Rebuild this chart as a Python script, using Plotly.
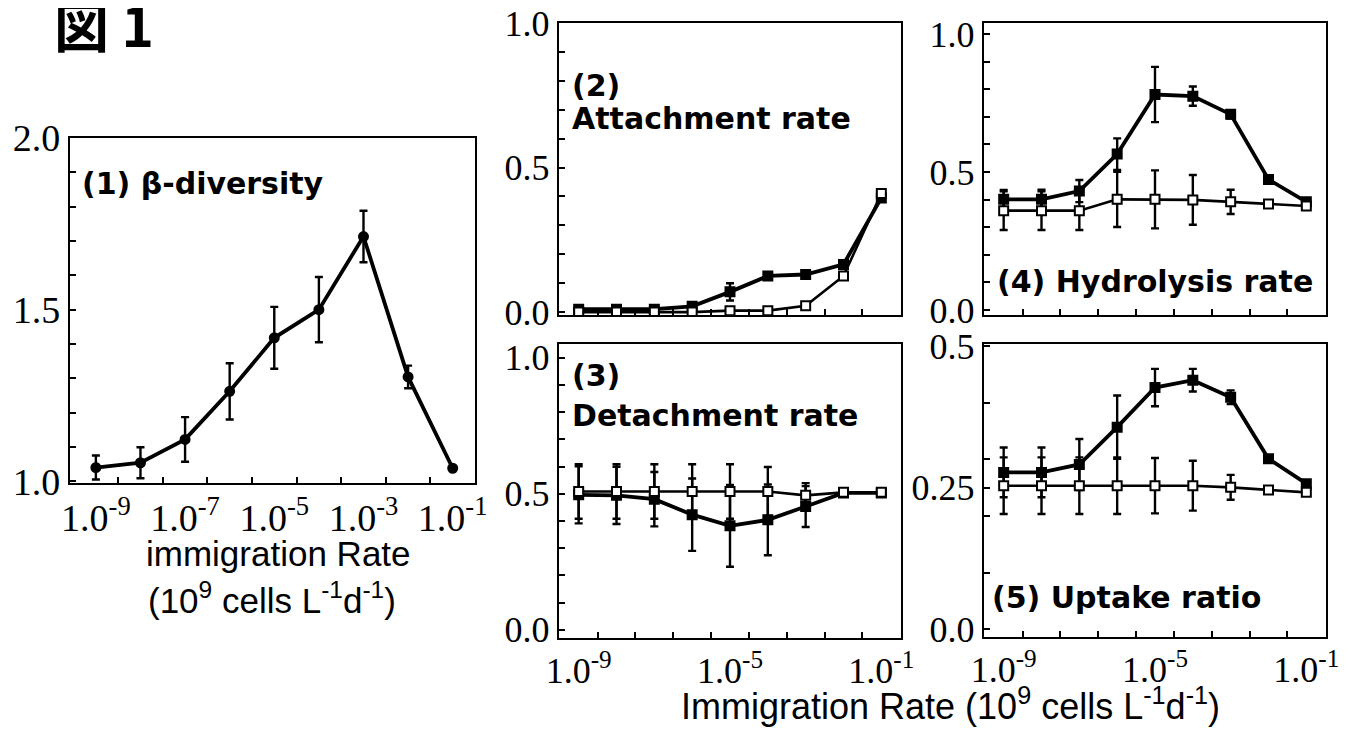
import plotly.graph_objects as go

W, H = 1363, 729

# ---------------- data ----------------
rates = [1e-9, 1e-8, 1e-7, 1e-6, 1e-5, 1e-4, 1e-3, 1e-2, 1e-1]

beta_div = [1.04, 1.054, 1.122, 1.262, 1.418, 1.50, 1.713, 1.304, 1.038]
beta_div_err = [0.035, 0.045, 0.065, 0.082, 0.09, 0.095, 0.075, 0.033, 0.0]

attach_filled = [0.01, 0.01, 0.01, 0.02, 0.07, 0.125, 0.13, 0.165, 0.395]
attach_filled_err = [0.005, 0.005, 0.005, 0.008, 0.03, 0.012, 0.008, 0.01, 0.01]
attach_open = [0.0, 0.0, 0.0, 0.0, 0.005, 0.005, 0.022, 0.125, 0.41]
attach_open_err = [0.0, 0.0, 0.0, 0.0, 0.0, 0.0, 0.005, 0.008, 0.01]

detach_filled = [0.496, 0.494, 0.48, 0.423, 0.382, 0.404, 0.453, 0.503, 0.503]
detach_filled_err = [0.105, 0.105, 0.1, 0.133, 0.15, 0.13, 0.075, 0.01, 0.01]
detach_open = [0.508, 0.508, 0.508, 0.508, 0.508, 0.508, 0.494, 0.505, 0.505]
detach_open_err = [0.1, 0.1, 0.1, 0.1, 0.1, 0.09, 0.045, 0.0, 0.0]

hydro_filled = [0.401, 0.401, 0.431, 0.565, 0.781, 0.775, 0.709, 0.473, 0.392]
hydro_filled_err = [0.034, 0.035, 0.04, 0.057, 0.1, 0.035, 0.015, 0.01, 0.01]
hydro_open = [0.36, 0.36, 0.36, 0.401, 0.401, 0.399, 0.392, 0.384, 0.377]
hydro_open_err = [0.07, 0.07, 0.07, 0.1, 0.105, 0.09, 0.044, 0.01, 0.0]

uptake_filled = [0.277, 0.277, 0.291, 0.357, 0.427, 0.44, 0.41, 0.301, 0.257]
uptake_filled_err = [0.044, 0.044, 0.045, 0.056, 0.033, 0.02, 0.012, 0.006, 0.005]
uptake_open = [0.2535, 0.2535, 0.2535, 0.2535, 0.2535, 0.2535, 0.2506, 0.246, 0.2417]
uptake_open_err = [0.05, 0.05, 0.05, 0.05, 0.049, 0.044, 0.022, 0.005, 0.005]

x_tick_vals_p1 = [1e-9, 1e-7, 1e-5, 1e-3, 1e-1]
x_tick_text_p1 = ["1.0<sup>-9</sup>", "1.0<sup>-7</sup>", "1.0<sup>-5</sup>",
                  "1.0<sup>-3</sup>", "1.0<sup>-1</sup>"]
x_tick_vals = [1e-9, 1e-5, 1e-1]
x_tick_text = ["1.0<sup>-9</sup>", "1.0<sup>-5</sup>", "1.0<sup>-1</sup>"]
half_decades = [10 ** (e + 0.5) for e in range(-9, -1)]

# ---------------- helpers ----------------
# the page body has an 8px margin, so screen pixel (x, y) maps to figure
# pixel (x - 8, y - 8)
OFF = 8


def px(x):
    return (x - OFF) / W


def py(y):
    return 1 - (y - OFF) / H


SERIF = "Liberation Serif, Times New Roman, serif"
SANS = "Liberation Sans, Arial, sans-serif"
BOLD = "DejaVu Sans, sans-serif"

fig = go.Figure()


def add_series(ax, ys, errs, filled, symbol="square"):
    xa = "x" if ax == 1 else f"x{ax}"
    ya = "y" if ax == 1 else f"y{ax}"
    fig.add_trace(go.Scatter(
        x=rates, y=ys, xaxis=xa, yaxis=ya, mode="lines+markers",
        line=dict(color="black", width=3.8 if filled else 2.6),
        marker=dict(symbol=symbol, size=9,
                    color="black" if filled else "white",
                    line=dict(color="black", width=2)),
        error_y=dict(type="data", array=errs, visible=True,
                     color="black", thickness=2.4, width=4),
        showlegend=False, hoverinfo="x+y",
    ))


add_series(1, beta_div, beta_div_err, True, symbol="circle")
add_series(2, attach_filled, attach_filled_err, True)
add_series(2, attach_open, attach_open_err, False)
add_series(3, detach_filled, detach_filled_err, True)
add_series(3, detach_open, detach_open_err, False)
add_series(4, hydro_filled, hydro_filled_err, True)
add_series(4, hydro_open, hydro_open_err, False)
add_series(5, uptake_filled, uptake_filled_err, True)
add_series(5, uptake_open, uptake_open_err, False)


def xaxis(dom, anchor, rng, tv=None, tt=None, labels=True, size=36):
    d = dict(
        domain=[px(dom[0]), px(dom[1])], anchor=anchor, type="log", range=rng,
        automargin=False, ticklabeloverflow="allow",
        showline=True, linecolor="black", linewidth=2.4, mirror=True,
        showgrid=False, zeroline=False,
        ticks="inside", ticklen=0, tickcolor="black",
        minor=dict(tickvals=half_decades, ticks="inside", ticklen=6,
                   tickwidth=1.5, tickcolor="black", showgrid=False),
        showticklabels=labels,
        tickfont=dict(family=SERIF, size=size, color="black"),
    )
    if tv is not None:
        d.update(tickmode="array", tickvals=tv, ticktext=tt)
    return d


def yaxis(dom, anchor, rng, tv, tt, size=36):
    return dict(
        domain=[py(dom[1]), py(dom[0])], anchor=anchor, range=rng,
        automargin=False, ticklabeloverflow="allow",
        showline=True, linecolor="black", linewidth=2.4, mirror=True,
        showgrid=False, zeroline=False,
        tickmode="array", tickvals=tv, ticktext=tt,
        ticks="inside", ticklen=6, tickwidth=1.5, tickcolor="black",
        minor=dict(dtick=0.1, tick0=0, ticks="inside", ticklen=6,
                   tickwidth=1.5, tickcolor="black", showgrid=False),
        tickfont=dict(family=SERIF, size=size, color="black"),
    )


XR1 = [-9.58, -0.5]
XR = [-9.52, -0.48]

fig.update_layout(
    width=W, height=H, margin=dict(l=0, r=0, t=0, b=0, autoexpand=False),
    paper_bgcolor="white", plot_bgcolor="white", showlegend=False,
    xaxis=xaxis((70, 475), "y", XR1, x_tick_vals_p1, x_tick_text_p1, size=38),
    yaxis=yaxis((138, 483), "x", [0.995, 2.0], [1.0, 1.5, 2.0], ["1.0", "1.5", "2.0"], size=38),
    xaxis2=xaxis((559, 901), "y2", XR, labels=False),
    yaxis2=yaxis((23, 315), "x2", [-0.01, 1.0], [0, 0.5, 1.0], ["0.0", "0.5", "1.0"]),
    xaxis3=xaxis((559, 901), "y3", XR, x_tick_vals, x_tick_text),
    yaxis3=yaxis((344, 638), "x3", [-0.03, 1.05], [0, 0.5, 1.0], ["0.0", "0.5", "1.0"]),
    xaxis4=xaxis((984, 1326), "y4", XR, labels=False),
    yaxis4=yaxis((23, 315), "x4", [-0.018, 1.04], [0, 0.5, 1.0], ["0.0", "0.5", "1.0"]),
    xaxis5=xaxis((984, 1326), "y5", XR, x_tick_vals, x_tick_text),
    yaxis5=yaxis((344, 637), "x5", [-0.014, 0.504], [0, 0.25, 0.5], ["0.0", "0.25", "0.5"]),
)


def note(text, x, y, family, size, xanchor="left", bold=False):
    fig.add_annotation(
        text=f"<b>{text}</b>" if bold else text,
        x=px(x), y=py(y), xref="paper", yref="paper",
        xanchor=xanchor, yanchor="middle", showarrow=False,
        font=dict(family=family, size=size, color="black"),
    )


note("図 1", 52, 23, "Noto Sans CJK JP", 55, bold=True)
note("(1) β-diversity", 80, 184, BOLD, 30, bold=True)
note("(2)", 570, 86, BOLD, 30, bold=True)
note("Attachment rate", 570, 119, BOLD, 30, bold=True)
note("(3)", 570, 375, BOLD, 30, bold=True)
note("Detachment rate", 570, 415, BOLD, 30, bold=True)
note("(4) Hydrolysis rate", 995, 282, BOLD, 30, bold=True)
note("(5) Uptake ratio", 990, 597, BOLD, 30, bold=True)

note("immigration Rate", 278, 553, SANS, 35, xanchor="center")
note("(10<sup>9</sup> cells L<sup>-1</sup>d<sup>-1</sup>)", 272, 598, SANS, 35, xanchor="center")
note("Immigration Rate (10<sup>9</sup> cells L<sup>-1</sup>d<sup>-1</sup>)", 950, 704, SANS, 36,
     xanchor="center")

fig.write_html("out.html")
